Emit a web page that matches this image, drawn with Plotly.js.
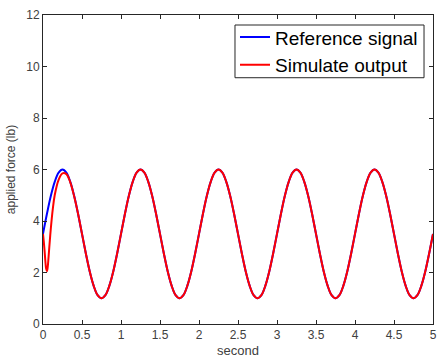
<!DOCTYPE html>
<html>
<head>
<meta charset="utf-8">
<script src="https://cdn.plot.ly/plotly-3.0.1.min.js"></script>
<style>html,body{margin:0;padding:0;background:#fff;}#chart{width:438px;height:363px;}</style>
</head>
<body>
<div id="chart"></div>
<script>
const refTime = [0,0.05,0.1,0.15,0.2,0.25,0.3,0.35,0.4,0.45,0.5,0.55,0.6,0.65,0.7,0.75,0.8,0.85,0.9,0.95,
1,1.05,1.1,1.15,1.2,1.25,1.3,1.35,1.4,1.45,1.5,1.55,1.6,1.65,1.7,1.75,1.8,1.85,1.9,1.95,
2,2.05,2.1,2.15,2.2,2.25,2.3,2.35,2.4,2.45,2.5,2.55,2.6,2.65,2.7,2.75,2.8,2.85,2.9,2.95,
3,3.05,3.1,3.15,3.2,3.25,3.3,3.35,3.4,3.45,3.5,3.55,3.6,3.65,3.7,3.75,3.8,3.85,3.9,3.95,
4,4.05,4.1,4.15,4.2,4.25,4.3,4.35,4.4,4.45,4.5,4.55,4.6,4.65,4.7,4.75,4.8,4.85,4.9,4.95,5];
const refForce = [3.5,4.27,4.97,5.52,5.88,6.0,5.88,5.52,4.97,4.27,3.5,2.73,2.03,1.48,1.12,1.0,1.12,1.48,2.03,2.73,
3.5,4.27,4.97,5.52,5.88,6.0,5.88,5.52,4.97,4.27,3.5,2.73,2.03,1.48,1.12,1.0,1.12,1.48,2.03,2.73,
3.5,4.27,4.97,5.52,5.88,6.0,5.88,5.52,4.97,4.27,3.5,2.73,2.03,1.48,1.12,1.0,1.12,1.48,2.03,2.73,
3.5,4.27,4.97,5.52,5.88,6.0,5.88,5.52,4.97,4.27,3.5,2.73,2.03,1.48,1.12,1.0,1.12,1.48,2.03,2.73,
3.5,4.27,4.97,5.52,5.88,6.0,5.88,5.52,4.97,4.27,3.5,2.73,2.03,1.48,1.12,1.0,1.12,1.48,2.03,2.73,3.5];

// Simulated output: initial transient, then tracks reference
const simStartTime = [0,0.01,0.02,0.03,0.04,0.05,0.06,0.07,0.08,0.1,0.125,0.15,0.2,0.25,0.3,0.35,0.4,0.45];
const simStartForce = [3.5,3.2,2.85,2.45,2.15,2.05,2.2,2.55,2.95,3.7,4.45,5.0,5.6,5.85,5.82,5.5,4.95,4.27];

const simTime = simStartTime.concat(refTime.filter(t => t >= 0.5));
const simForce = simStartForce.concat(refForce.filter((v, i) => refTime[i] >= 0.5));

const xTicks = [0,0.5,1,1.5,2,2.5,3,3.5,4,4.5,5];
const xTickText = ['0','0.5','1','1.5','2','2.5','3','3.5','4','4.5','5'];
const yTicks = [0,2,4,6,8,10,12];

const axisColor = '#262626';
const labelColor = '#404040';
const font = 'Liberation Sans, Arial, sans-serif';

const data = [
  {x: refTime, y: refForce, type: 'scatter', mode: 'lines', name: 'Reference signal',
   line: {color: '#0000ff', width: 2, shape: 'spline'}},
  {x: simTime, y: simForce, type: 'scatter', mode: 'lines', name: 'Simulate output',
   line: {color: '#ff0000', width: 2, shape: 'spline'}}
];

const layout = {
  width: 438, height: 363,
  margin: {l: 43, r: 5, t: 15, b: 39},
  paper_bgcolor: '#fff', plot_bgcolor: '#fff',
  font: {family: font, color: axisColor, size: 12},
  showlegend: true,
  legend: {x: 0.4923, y: 0.9895, xanchor: 'left', yanchor: 'top',
    bgcolor: 'rgba(0,0,0,0)', borderwidth: 0,
    font: {family: font, size: 19, color: '#000'}},
  shapes: [{type: 'rect', xref: 'paper', yref: 'paper', x0: 0.4923, x1: 0.977, y0: 0.797, y1: 0.9676,
    line: {color: axisColor, width: 1}, fillcolor: 'rgba(255,255,255,0)', layer: 'above'}],
  xaxis: {range: [0, 5], tickvals: xTicks, ticktext: xTickText, ticks: 'inside', ticklen: 4,
    tickcolor: axisColor, showline: true, linecolor: axisColor, linewidth: 1, mirror: 'ticks',
    showgrid: false, zeroline: false, tickfont: {size: 12, color: labelColor},
    title: {text: 'second', font: {size: 13, color: labelColor}, standoff: 4}},
  yaxis: {range: [0, 12], tickvals: yTicks, ticks: 'inside', ticklen: 4,
    tickcolor: axisColor, showline: true, linecolor: axisColor, linewidth: 1, mirror: 'ticks',
    showgrid: false, zeroline: false, tickfont: {size: 12, color: labelColor},
    title: {text: 'applied force (lb)', font: {size: 12, color: labelColor}, standoff: 8}}
};

Plotly.newPlot('chart', data, layout, {displayModeBar: false, staticPlot: true});
</script>
</body>
</html>
